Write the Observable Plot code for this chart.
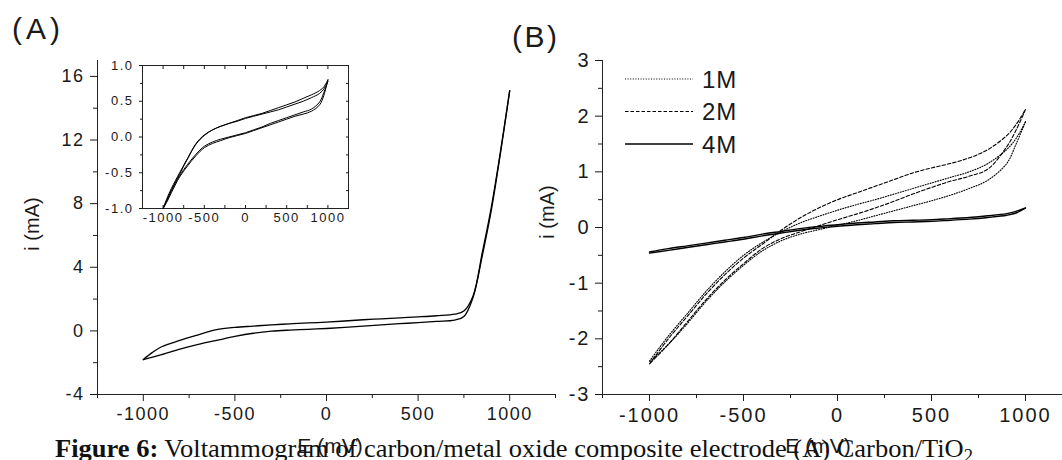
<!DOCTYPE html>
<html><head><meta charset="utf-8">
<script src="https://cdn.jsdelivr.net/npm/d3@7"></script>
<script src="https://cdn.jsdelivr.net/npm/@observablehq/plot@0.6"></script>
<style>
html,body{margin:0;padding:0;background:#fff;overflow:hidden;}
#wrap{position:relative;width:1062px;height:460px;overflow:hidden;font-family:"Liberation Sans",Arial,sans-serif;color:#1a1a1a;background:#fff;}
#wrap > svg{position:absolute;left:0;top:0;max-width:none !important;}
.lbl{position:absolute;white-space:nowrap;line-height:1;}
.ylab{position:absolute;white-space:nowrap;line-height:1;transform:translate(-50%,-50%) rotate(-90deg);}
#caption{position:absolute;left:55px;top:436px;font-family:"Liberation Serif","Times New Roman",serif;font-size:26px;line-height:1;white-space:nowrap;transform-origin:0 0;color:#111;}
#caption sub{font-size:0.7em;vertical-align:-0.25em;line-height:0;}
</style></head><body><div id="wrap"></div>
<script>
// ---------- Panel A: main CV (E in mV, i in mA) ----------
const aE     = [-1000,-950,-900,-800,-700,-600,-500,-400,-300,-200,-100,0,100,200,300,400,500,600,700,750,800,850,900,950,1000];
const aUpper = [-1.8,-1.35,-1.0,-0.6,-0.25,0.08,0.22,0.3,0.38,0.44,0.5,0.55,0.62,0.7,0.76,0.82,0.88,0.95,1.05,1.25,2.2,4.9,7.8,11.3,15.1];
const aLower = [-1.8,-1.65,-1.5,-1.15,-0.85,-0.6,-0.35,-0.15,-0.02,0.05,0.1,0.15,0.22,0.3,0.38,0.45,0.52,0.6,0.68,0.9,2.1,4.7,7.6,11.2,15.1];
const aYTicks = [-4,0,4,8,12,16];
const aYMinor = [-2,2,6,10,14];
const aXTicks = [-1000,-500,0,500,1000];
const aXMinor = [-1250,-750,-250,250,750,1250];

// ---------- Panel A inset: repeated cycles ----------
const inE       = [-1000,-950,-900,-800,-700,-600,-500,-400,-300,-200,-100,0,100,200,300,400,500,600,700,800,900,950,1000];
const inC1Upper = [-1.0,-0.88,-0.75,-0.52,-0.3,-0.1,0.02,0.1,0.15,0.19,0.23,0.27,0.3,0.33,0.37,0.41,0.45,0.49,0.54,0.59,0.65,0.7,0.8];
const inC1Lower = [-1.0,-0.9,-0.78,-0.56,-0.4,-0.26,-0.15,-0.09,-0.05,-0.01,0.02,0.05,0.09,0.13,0.17,0.21,0.25,0.29,0.32,0.36,0.45,0.58,0.8];
const inC2Upper = [-1.0,-0.85,-0.72,-0.5,-0.29,-0.09,0.03,0.1,0.15,0.19,0.22,0.26,0.29,0.32,0.35,0.38,0.42,0.46,0.5,0.55,0.61,0.67,0.78];
const inC2Lower = [-1.0,-0.87,-0.75,-0.54,-0.38,-0.24,-0.13,-0.07,-0.03,0.0,0.03,0.06,0.1,0.14,0.19,0.23,0.27,0.31,0.35,0.39,0.49,0.62,0.78];
const inYTicks = [-1,-0.5,0,0.5,1];
const inYMinor = [-0.75,-0.25,0.25,0.75];
const inXTicks = [-1000,-500,0,500,1000];
const inXMinor = [-750,-250,250,750];

// ---------- Panel B: concentration series ----------
const bE       = [-1000,-900,-800,-700,-600,-500,-400,-300,-200,-100,0,100,200,300,400,500,600,700,800,900,950,1000];
const b1MUpper = [-2.4,-1.95,-1.55,-1.15,-0.8,-0.5,-0.27,-0.08,0.08,0.2,0.31,0.41,0.5,0.6,0.7,0.8,0.9,1.0,1.15,1.4,1.6,1.9];
const b1MLower = [-2.42,-2.1,-1.73,-1.33,-0.98,-0.68,-0.42,-0.24,-0.12,-0.04,0.04,0.12,0.21,0.3,0.39,0.48,0.58,0.7,0.85,1.15,1.5,1.9];
const b2MUpper = [-2.45,-2.0,-1.6,-1.2,-0.85,-0.55,-0.3,-0.05,0.17,0.35,0.5,0.62,0.74,0.86,0.98,1.07,1.15,1.25,1.4,1.65,1.85,2.12];
const b2MLower = [-2.45,-2.1,-1.7,-1.3,-0.95,-0.65,-0.38,-0.2,-0.08,0.03,0.14,0.24,0.35,0.47,0.6,0.72,0.83,0.92,1.05,1.45,1.75,2.12];
const b4MUpper = [-0.44,-0.38,-0.33,-0.28,-0.23,-0.18,-0.12,-0.07,-0.02,0.02,0.05,0.08,0.1,0.12,0.13,0.14,0.16,0.18,0.21,0.25,0.29,0.35];
const b4MLower = [-0.46,-0.41,-0.36,-0.31,-0.26,-0.21,-0.15,-0.1,-0.05,-0.01,0.02,0.05,0.07,0.09,0.1,0.11,0.13,0.15,0.18,0.22,0.26,0.35];
const bYTicks = [-3,-2,-1,0,1,2,3];
const bYMinor = [-2.5,-1.5,-0.5,0.5,1.5,2.5];
const bXTicks = [-1000,-500,0,500,1000];
const bXMinor = [-1250,-750,-250,250,750,1250];
const bSeries = ["1M","2M","4M"];
const bDash   = {"1M":"1,1.6","2M":"3.5,2","4M":null};

// ---------- helpers ----------
const pts = (E, I, z) => E.map((e, k) => ({E: e, I: I[k], z}));
const branches = (E, up, down, id) => pts(E, up, id + "-up").concat(pts(E, down, id + "-down").reverse());
const fmtInt = d => String(d);
const none = () => "";
const style = (fs, ls) => ({background: "transparent", fontFamily: '"Liberation Sans", Arial, sans-serif',
  fontSize: fs, letterSpacing: ls, color: "#1a1a1a", overflow: "visible", maxWidth: "none"});

const wrap = document.getElementById("wrap");

// Panel A main
const dataA = branches(aE, aUpper, aLower, "A");
wrap.append(Plot.plot({
  width: 1062, height: 460, marginLeft: 97, marginRight: 507, marginTop: 60, marginBottom: 66,
  x: {domain: [-1250, 1250]}, y: {domain: [-4, 17]},
  style: style("18px", "1.5px"),
  marks: [
    Plot.ruleX([-1250], {stroke: "#222"}),
    Plot.ruleY([-4], {stroke: "#222"}),
    Plot.axisY({ticks: aYTicks, tickSize: 7, tickPadding: 6, tickFormat: fmtInt, label: null}),
    Plot.axisY({ticks: aYMinor, tickSize: 4, tickFormat: none, label: null}),
    Plot.axisX({ticks: aXTicks, tickSize: 7, tickPadding: 6, tickFormat: fmtInt, label: null}),
    Plot.axisX({ticks: aXMinor, tickSize: 4, tickFormat: none, label: null}),
    Plot.line(dataA, {x: "E", y: "I", z: "z", stroke: "#000", strokeWidth: 1.3, curve: "catmull-rom"})
  ]
}));

// Panel A inset
const dataIn = branches(inE, inC1Upper, inC1Lower, "c1").concat(branches(inE, inC2Upper, inC2Lower, "c2"));
wrap.append(Plot.plot({
  width: 1062, height: 460, marginLeft: 142, marginRight: 714, marginTop: 65, marginBottom: 252,
  x: {domain: [-1250, 1250]}, y: {domain: [-1, 1]},
  style: style("13px", "1.5px"),
  marks: [
    Plot.frame({stroke: "#222", fill: "#fff"}),
    Plot.axisY({ticks: inYTicks, tickSize: 3, tickPadding: 6, tickFormat: d => d.toFixed(1), label: null}),
    Plot.axisY({ticks: inYMinor, tickSize: 2, tickFormat: none, label: null}),
    Plot.axisY({ticks: inYTicks.concat(inYMinor), anchor: "right", tickSize: -3, tickFormat: none, label: null}),
    Plot.axisX({ticks: inXTicks, tickSize: 0, tickPadding: 4, tickFormat: fmtInt, label: null}),
    Plot.axisX({ticks: inXTicks.concat(inXMinor), tickSize: -3, tickFormat: none, label: null}),
    Plot.axisX({ticks: inXTicks.concat(inXMinor), anchor: "top", tickSize: -3, tickFormat: none, label: null}),
    Plot.line(dataIn, {x: "E", y: "I", z: "z", stroke: "#000", strokeWidth: 1, curve: "catmull-rom"})
  ]
}));

// Panel B
const dataB = {
  "1M": branches(bE, b1MUpper, b1MLower, "1M"),
  "2M": branches(bE, b2MUpper, b2MLower, "2M"),
  "4M": branches(bE, b4MUpper, b4MLower, "4M")
};
wrap.append(Plot.plot({
  width: 1072, height: 460, marginLeft: 602, marginRight: 0, marginTop: 60, marginBottom: 66,
  x: {domain: [-1250, 1250]}, y: {domain: [-3, 3]},
  style: style("20px", "2px"),
  marks: [
    Plot.ruleX([-1250], {stroke: "#222"}),
    Plot.ruleY([-3], {stroke: "#222"}),
    Plot.axisY({ticks: bYTicks, tickSize: 7, tickPadding: 5, tickFormat: fmtInt, label: null}),
    Plot.axisY({ticks: bYMinor, tickSize: 4, tickFormat: none, label: null}),
    Plot.axisX({ticks: bXTicks, tickSize: 7, tickPadding: 6, tickFormat: fmtInt, label: null}),
    Plot.axisX({ticks: bXMinor, tickSize: 4, tickFormat: none, label: null}),
    ...bSeries.map(s => Plot.line(dataB[s], {x: "E", y: "I", z: "z", stroke: "#000",
      strokeWidth: s === "4M" ? 1.4 : 1.1, strokeDasharray: bDash[s], curve: "catmull-rom"}))
  ]
}));

// Text: panel tags, axis labels, legend, caption
function addDiv(cls, html, css) {
  const d = document.createElement("div");
  d.className = cls; d.innerHTML = html;
  Object.assign(d.style, css);
  wrap.append(d);
  return d;
}
addDiv("lbl", "(A)", {left: "12px", top: "14px", fontSize: "30px", letterSpacing: "4px"});
addDiv("lbl", "(B)", {left: "512px", top: "22px", fontSize: "30px", letterSpacing: "2.5px"});
addDiv("lbl", "E (mV)", {left: "330px", top: "435px", fontSize: "21px", transform: "translateX(-50%)"});
addDiv("lbl", "E (mV)", {left: "818px", top: "435px", fontSize: "21px", transform: "translateX(-50%)"});
addDiv("ylab", "i (mA)", {left: "32px", top: "224px", fontSize: "20px"});
addDiv("ylab", "i (mA)", {left: "547px", top: "212px", fontSize: "20px"});

// legend
const NS = "http://www.w3.org/2000/svg";
const leg = document.createElementNS(NS, "svg");
leg.setAttribute("width", "140"); leg.setAttribute("height", "100");
Object.assign(leg.style, {position: "absolute", left: "620px", top: "62px", overflow: "visible"});
bSeries.forEach((s, k) => {
  const y = 17 + k * 32.5;
  const ln = document.createElementNS(NS, "line");
  ln.setAttribute("x1", 5); ln.setAttribute("x2", 73); ln.setAttribute("y1", y); ln.setAttribute("y2", y);
  ln.setAttribute("stroke", "#000"); ln.setAttribute("stroke-width", s === "4M" ? 1.4 : 1.1);
  if (bDash[s]) ln.setAttribute("stroke-dasharray", bDash[s]);
  leg.append(ln);
  const t = document.createElementNS(NS, "text");
  t.setAttribute("x", 82); t.setAttribute("y", y);
  t.setAttribute("dominant-baseline", "central");
  t.setAttribute("font-family", '"Liberation Sans", Arial, sans-serif');
  t.setAttribute("font-size", "24"); t.setAttribute("letter-spacing", "1");
  t.setAttribute("fill", "#1a1a1a");
  t.textContent = s;
  leg.append(t);
});
wrap.append(leg);

// caption
const cap = addDiv("", "<b>Figure 6:</b> Voltammogram of carbon/metal oxide composite electrode (A) Carbon/TiO<sub>2</sub>", {});
cap.id = "caption";
const w = cap.getBoundingClientRect().width;
cap.style.transform = `scaleX(${918 / w})`;
</script>
</body></html>
